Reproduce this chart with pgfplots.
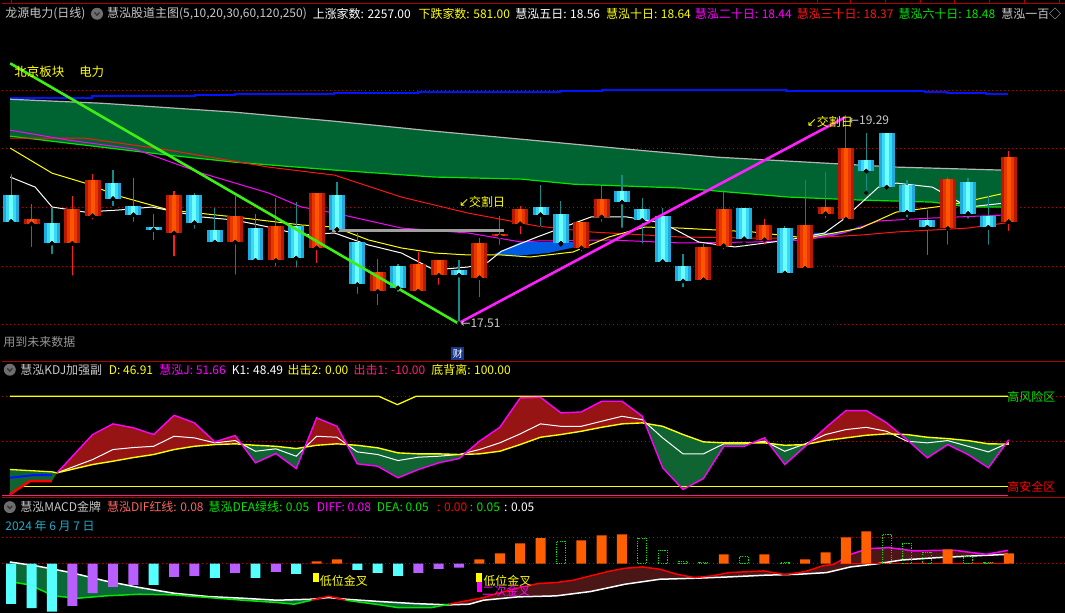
\documentclass[border=0pt]{standalone}
\usepackage{fontspec}
\setmainfont{Noto Sans CJK SC}
\newfontfamily\dejavu{DejaVu Sans}
\usepackage{pgfplots}
\pgfplotsset{compat=1.18}
\usepgfplotslibrary{fillbetween}
\usepackage{pgfplotstable}

\definecolor{sepred}{RGB}{175,0,0}
\definecolor{dotred}{RGB}{190,0,0}
\definecolor{band}{RGB}{0,100,50}
\definecolor{maGray}{RGB}{180,180,180}
\definecolor{maGreen}{RGB}{0,230,0}
\definecolor{maRed}{RGB}{255,20,20}
\definecolor{maMag}{RGB}{255,0,255}
\definecolor{maYel}{RGB}{255,255,0}
\definecolor{maBlue}{RGB}{0,20,255}
\definecolor{fillBlue}{RGB}{0,90,225}
\definecolor{upD}{RGB}{185,25,0}
\definecolor{upM}{RGB}{230,55,0}
\definecolor{upL}{RGB}{255,85,0}
\definecolor{dnD}{RGB}{30,170,220}
\definecolor{dnM}{RGB}{60,215,245}
\definecolor{dnL}{RGB}{110,255,255}
\definecolor{wickUp}{RGB}{255,30,30}
\definecolor{wickDn}{RGB}{20,140,140}
\definecolor{diagG}{RGB}{60,240,20}
\definecolor{diagM}{RGB}{255,30,255}
\definecolor{kred}{RGB}{150,20,20}
\definecolor{kgreen}{RGB}{15,100,50}
\definecolor{mgreen}{RGB}{10,105,55}
\definecolor{mbrown}{RGB}{75,22,22}
\definecolor{hCyan}{RGB}{85,255,255}
\definecolor{hViolet}{RGB}{185,95,255}
\definecolor{hOrange}{RGB}{255,95,0}
\definecolor{hGreen}{RGB}{0,230,0}
\definecolor{txtGray}{RGB}{200,200,200}
\definecolor{dimGray}{RGB}{150,150,150}
\definecolor{iconGray}{RGB}{110,110,110}
\definecolor{dateC}{RGB}{30,170,200}
\definecolor{pinkLine}{RGB}{230,40,130}
\definecolor{hotpink}{RGB}{255,30,120}
\definecolor{salmon}{RGB}{255,100,100}
\definecolor{caiBlue}{RGB}{25,55,140}

\newcommand\hf{\fontsize{12bp}{14bp}\selectfont}

% candles: index, open, high, low, close
\pgfplotstableread{
i o h l c
1 18.38 18.55 18.16 18.42
3 18.21 18.62 17.91 18.51
4 18.45 18.82 18.40 18.76
8 18.30 18.67 18.08 18.63
11 18.22 18.62 17.92 18.45
13 18.06 18.61 17.99 18.36
15 18.17 18.65 18.02 18.65
18 17.79 18.07 17.65 17.96
20 17.79 18.13 17.79 18.03
21 17.93 18.06 17.83 18.06
23 17.91 18.26 17.72 18.21
24 18.27 18.45 18.18 18.29
25 18.38 18.54 18.27 18.51
28 18.17 18.40 18.12 18.40
29 18.44 18.71 18.38 18.60
34 17.89 18.20 17.89 18.18
35 18.19 18.68 18.14 18.51
37 18.24 18.42 18.18 18.37
39 17.99 18.76 17.99 18.37
40 18.47 18.83 18.41 18.53
41 18.42 19.33 18.40 19.04
46 18.34 18.79 18.18 18.77
49 18.40 19.02 18.30 18.96
}\upc

\pgfplotstableread{
i o h l c
0 18.63 18.82 18.40 18.40
2 18.39 18.52 18.10 18.21
5 18.74 18.85 18.52 18.60
6 18.54 18.78 18.38 18.46
7 18.35 18.47 18.22 18.33
9 18.63 18.65 18.32 18.39
10 18.33 18.52 18.19 18.22
12 18.34 18.47 18.06 18.06
14 18.36 18.57 17.98 18.08
16 18.63 18.75 18.33 18.33
17 18.22 18.30 17.75 17.85
19 18.01 18.03 17.77 17.82
22 17.98 18.06 17.51 17.93
26 18.53 18.72 18.34 18.46
27 18.47 18.58 18.20 18.21
30 18.67 18.81 18.33 18.57
31 18.51 18.61 18.19 18.41
32 18.45 18.52 18.03 18.05
33 18.01 18.12 17.81 17.88
36 18.52 18.52 18.21 18.25
38 18.34 18.36 17.93 17.95
42 18.94 19.17 18.65 18.84
43 19.17 19.17 18.70 18.70
44 18.72 18.76 18.42 18.48
45 18.41 18.50 18.09 18.35
47 18.75 18.78 18.41 18.47
48 18.45 18.62 18.18 18.35
}\dnc

\pgfplotstableread{
i p
-0.05 19.469
4.46 19.434
10.98 19.356
15.88 19.277
20.78 19.190
25.05 19.120
30.25 19.033
34.66 18.963
39.95 18.911
43.48 18.876
48.63 18.850
}\maTop

\pgfplotstableread{
i p
-0.05 19.146
4.46 19.050
7.75 18.980
10.98 18.919
15.88 18.850
20.78 18.789
25.05 18.771
27.6 18.727
32.9 18.693
38.19 18.614
41.72 18.588
45.25 18.570
47.0 18.527
48.63 18.527
}\maSixty

% KDJ: J, K, D
\pgfplotstableread{
i J K D
2.25 15.1 15.1 15.1
4 57.5 29.8 24.3
5 69.3 40.9 28.0
6 64.9 43.1 32.0
7 57.5 44.5 35.4
8 78.8 55.6 40.9
9 70.4 53.8 44.5
10 49.4 48.3 46.4
11 56.4 50.8 47.2
12 26.2 39.0 45.6
13 36.5 41.7 44.5
14 19.9 33.5 42.0
15 75.9 55.6 45.6
16 66.6 54.5 47.2
17 25.1 38.3 45.6
18 22.4 35.4 42.8
19 9.6 28.7 37.2
20 18.8 32.4 36.1
21 26.2 33.5 36.1
22 30.9 35.4 35.4
23 50.1 40.9 36.1
24 65.5 48.3 39.0
25 98.0 58.2 46.4
26 98.7 69.3 54.5
27 81.4 66.6 57.5
28 82.5 66.6 61.1
29 94.3 72.2 65.5
30 94.3 77.7 69.3
31 77.7 74.0 70.4
32 20.7 53.8 66.6
33 -3.3 36.1 57.5
34 8.8 36.1 49.4
35 44.5 47.2 48.3
36 44.5 47.2 48.3
37 53.8 50.1 48.3
38 24.3 39.0 45.6
39 44.5 47.2 46.4
40 64.9 57.5 50.8
41 84.0 63.0 53.8
42 84.0 65.5 56.7
43 70.4 61.1 58.2
44 51.9 50.1 57.5
45 31.7 48.3 54.5
46 46.4 50.8 53.0
47 35.4 44.5 50.8
48 20.7 38.3 47.2
49 51.66 48.49 46.91
}\kdj

% MACD lines
\pgfplotstableread{
i m
-0.07 0.010
1.25 -0.014
2.94 -0.054
4.62 -0.104
6.31 -0.144
8.0 -0.178
9.69 -0.198
11.37 -0.208
13.06 -0.220
14.75 -0.214
15.6 -0.204
16.43 -0.214
18.13 -0.228
19.8 -0.240
21.5 -0.248
22.5 -0.244
23.2 -0.220
24.9 -0.200
26.76 -0.194
28.45 -0.168
30.15 -0.124
31.86 -0.094
33.58 -0.088
35.27 -0.080
36.96 -0.070
38.68 -0.064
40.05 -0.054
41.23 -0.020
42.6 0.0
43.77 0.022
45.5 0.036
47.2 0.046
48.97 0.056
}\dea

\pgfplotstableread{
i m
-0.07 -0.108
0.91 -0.128
2.09 -0.194
3.27 -0.208
4.62 -0.194
6.31 -0.184
8.0 -0.188
9.69 -0.204
11.37 -0.220
13.06 -0.234
13.9 -0.244
14.75 -0.220
15.6 -0.196
16.43 -0.220
18.13 -0.248
18.97 -0.264
20.66 -0.264
21.5 -0.244
22.35 -0.224
23.2 -0.204
24.04 -0.174
24.9 -0.146
25.88 -0.120
26.76 -0.114
27.6 -0.100
28.45 -0.074
29.3 -0.048
30.15 -0.028
31.0 -0.020
31.86 -0.034
32.7 -0.064
33.57 -0.084
34.41 -0.074
35.27 -0.054
36.96 -0.044
38.0 -0.066
39.0 -0.048
39.85 -0.014
40.4 -0.004
40.7 0.016
41.23 0.056
42.1 0.090
43.1 0.096
43.77 0.086
44.3 0.076
45.5 0.080
46.35 0.080
47.2 0.066
47.9 0.056
48.97 0.080
}\dif

\pgfplotsset{
  panel/.style={scale only axis, hide axis, width=1065bp,
    xmin=-0.441, xmax=51.765, anchor=south west},
  griddot/.style={dotred, line width=1bp, dash pattern=on 1bp off 3bp, on layer=axis background},
  bar/.style 2 args={only marks, mark=none,
    error bars/y dir=plus, error bars/y explicit, error bars/error mark=none,
    error bars/error bar style={line width=#1, color=#2}},
  hbar/.style={ybar, bar width=10bp, bar shift=0pt, draw=none, fill=#1},
}

\begin{document}
\pagecolor{black}
\begin{tikzpicture}[trim left=0bp, trim right=1065bp]
\path (0,0) rectangle (1065bp,614bp);

%================ main panel =================
\begin{axis}[panel, at={(0bp,254bp)}, height=340bp, ymin=17.192, ymax=20.158]
\addplot[griddot] coordinates {(-0.44,19.542) (51.76,19.542)};
\addplot[griddot] coordinates {(-0.44,19.039) (51.76,19.039)};
\addplot[griddot] coordinates {(-0.44,18.524) (51.76,18.524)};
\addplot[griddot] coordinates {(-0.44,18.009) (51.76,18.009)};
\addplot[griddot] coordinates {(-0.44,17.503) (51.76,17.503)};

\addplot[draw=none, name path=top] table[x=i, y=p] {\maTop};
\addplot[draw=none, name path=sixty] table[x=i, y=p] {\maSixty};
\addplot[band] fill between[of=top and sixty];

\addplot[fill=fillBlue, draw=none] coordinates {(23.73,18.117) (25.05,18.221) (28.48,18.221) (27.5,18.169) (26.37,18.125) (24.71,18.099)} -- cycle;
\addplot[fill=fillBlue, draw=none] coordinates {(39.41,18.300) (40.25,18.300) (41.23,18.322) (41.81,18.378) (41.23,18.313) (40.25,18.269) (39.41,18.256)} -- cycle;

\addplot[const plot, maBlue, line width=2bp] coordinates {(-0.05,19.478) (3.97,19.495) (9.02,19.507) (10.98,19.513) (15.88,19.524) (20.0,19.530) (24.07,19.533) (26.96,19.545) (29.02,19.554) (38.04,19.542) (44.9,19.533) (45.98,19.524) (47.89,19.515) (48.97,19.515)};
\addplot[maGray, line width=1.2bp] table[x=i, y=p] {\maTop};
\addplot[maGreen, line width=1.2bp] table[x=i, y=p] {\maSixty};
\addplot[maRed, line width=1bp] coordinates {(-0.05,19.129) (3.63,19.129) (7.75,19.024) (12.65,18.876) (15.88,18.806) (19.17,18.614) (22.45,18.474) (25.05,18.387) (25.83,18.361) (28.48,18.309) (32.89,18.265) (36.42,18.256) (39.07,18.256) (41.72,18.282) (43.48,18.309) (47.0,18.343) (48.82,18.387)};
\addplot[maMag, line width=1bp] coordinates {(-0.05,19.199) (2.84,19.111) (6.08,19.033) (9.36,18.823) (12.65,18.649) (14.26,18.527) (15.88,18.474) (19.17,18.343) (22.45,18.300) (25.05,18.221) (25.83,18.230) (29.36,18.239) (32.89,18.213) (36.42,18.221) (39.07,18.239) (40.83,18.300) (42.6,18.405) (45.25,18.431) (48.82,18.457)};
\addplot[maYel, line width=1bp] coordinates {(-0.05,19.042) (2.01,18.823) (3.63,18.736) (5.29,18.623) (7.75,18.501) (10.98,18.440) (14.26,18.370) (15.88,18.352) (17.55,18.239) (19.17,18.169) (20.78,18.125) (22.45,18.108) (24.07,18.108) (25.49,18.090) (27.6,18.134) (29.36,18.265) (31.13,18.352) (32.89,18.343) (36.42,18.309) (39.07,18.256) (41.72,18.343) (43.48,18.483) (46.13,18.544) (48.82,18.649)};
\addplot[white, line width=1bp] coordinates {(-0.05,18.789) (1.18,18.701) (2.01,18.527) (3.63,18.483) (5.29,18.501) (6.91,18.527) (9.36,18.440) (10.98,18.413) (12.65,18.352) (14.26,18.282) (15.88,18.300) (17.55,18.195) (19.17,18.125) (20.78,17.977) (22.45,18.003) (23.43,18.047) (24.07,18.140) (25.83,18.265) (28.48,18.440) (30.25,18.440) (32.01,18.387) (33.77,18.221) (35.54,18.178) (38.19,18.239) (39.95,18.300) (40.83,18.413) (42.6,18.701) (43.48,18.736) (45.25,18.701) (47.0,18.527) (48.82,18.562)};

% wicks
\addplot[bar={1.2bp}{wickUp}] table[x=i, y=l, y error plus expr=\thisrow{h}-\thisrow{l}] {\upc};
\addplot[bar={1.2bp}{wickDn}] table[x=i, y=l, y error plus expr=\thisrow{h}-\thisrow{l}] {\dnc};
% bodies
\addplot[bar={16bp}{upD}] table[x=i, y=o, y error plus expr=\thisrow{c}-\thisrow{o}] {\upc};
\addplot[bar={10bp}{upM}] table[x=i, y=o, y error plus expr=\thisrow{c}-\thisrow{o}] {\upc};
\addplot[bar={4bp}{upL}] table[x=i, y=o, y error plus expr=\thisrow{c}-\thisrow{o}] {\upc};
\addplot[bar={16bp}{dnD}] table[x=i, y=c, y error plus expr=\thisrow{o}-\thisrow{c}] {\dnc};
\addplot[bar={10bp}{dnM}] table[x=i, y=c, y error plus expr=\thisrow{o}-\thisrow{c}] {\dnc};
\addplot[bar={4bp}{dnL}] table[x=i, y=c, y error plus expr=\thisrow{o}-\thisrow{c}] {\dnc};

\addplot[gray!75, line width=3bp] coordinates {(15.74,18.324) (24.22,18.324)};
\addplot[diagG, line width=2.6bp] coordinates {(-0.05,19.783) (21.96,17.51)};
\addplot[diagM, line width=2.6bp] coordinates {(21.96,17.51) (40.95,19.31)};

\node[anchor=west, inner sep=0, text=maYel, font=\hf] at (axis cs:21.99,18.568) {{\dejavu ↙}交割日};
\node[anchor=west, inner sep=0, text=maYel, font=\hf] at (axis cs:39.07,19.271) {{\dejavu ↙}交割日};
\node[anchor=west, inner sep=0, text=txtGray, font=\hf] at (axis cs:41.15,19.29) {{\dejavu ←}19.29};
\node[anchor=west, inner sep=0, text=txtGray, font=\hf] at (axis cs:22.06,17.51) {{\dejavu ←}17.51};
\end{axis}

%================ KDJ panel =================
\begin{axis}[panel, at={(0bp,116bp)}, height=136bp, ymin=-12.16, ymax=138.1]
\addplot[griddot] coordinates {(-0.44,100) (51.76,100)};
\addplot[griddot] coordinates {(-0.44,50) (51.76,50)};
\addplot[maYel, line width=1.3bp] coordinates {(-0.07,100) (18.04,100) (18.97,90.6) (19.9,100) (48.97,100)};
\addplot[maYel, line width=1.3bp] coordinates {(-0.07,0) (48.97,0)};

\addplot[fill=kgreen, draw=none] coordinates {(-0.07,18.8) (2.0,16.2) (2.25,15.1) (2.0,5.9) (0.91,5.9) (-0.07,-8.8)} -- cycle;
\addplot[maYel, line width=1.3bp] coordinates {(-0.07,18.8) (2.0,16.2) (2.25,15.1)};
\addplot[red, line width=2.5bp] coordinates {(-0.07,-8.8) (0.91,5.9) (2.0,5.9)};
\addplot[maBlue, line width=2bp] coordinates {(-0.07,9.6) (1.08,12.5) (2.0,12.5)};

\addplot[draw=none, name path=J] table[x=i, y=J] {\kdj};
\addplot[draw=none, name path=D] table[x=i, y=D] {\kdj};
\addplot[kred] fill between[of=J and D, soft clip={domain=2.25:11.32}];
\addplot[kgreen] fill between[of=J and D, soft clip={domain=11.32:14.42}];
\addplot[kred] fill between[of=J and D, soft clip={domain=14.42:16.49}];
\addplot[kgreen] fill between[of=J and D, soft clip={domain=16.49:22.24}];
\addplot[kred] fill between[of=J and D, soft clip={domain=22.24:31.14}];
\addplot[kgreen] fill between[of=J and D, soft clip={domain=31.14:36.41}];
\addplot[kred] fill between[of=J and D, soft clip={domain=36.41:37.21}];
\addplot[kgreen] fill between[of=J and D, soft clip={domain=37.21:39.12}];
\addplot[kred] fill between[of=J and D, soft clip={domain=39.12:43.69}];
\addplot[kgreen] fill between[of=J and D, soft clip={domain=43.69:48.85}];
\addplot[kred] fill between[of=J and D, soft clip={domain=48.85:49}];

\addplot[white, line width=1bp] table[x=i, y=K] {\kdj};
\addplot[maYel, line width=1.4bp] table[x=i, y=D] {\kdj};
\addplot[maMag, line width=1.4bp] table[x=i, y=J] {\kdj};
\end{axis}

%================ MACD panel =================
\begin{axis}[panel, at={(0bp,0bp)}, height=116bp, ymin=-0.2982, ymax=0.3978]
\addplot[griddot] coordinates {(-0.44,0.160) (51.76,0.160)};
\addplot[griddot] coordinates {(-0.44,0) (51.76,0)};

\addplot[draw=none, name path=DIF] table[x=i, y=m] {\dif};
\addplot[draw=none, name path=DEA] table[x=i, y=m] {\dea};
\addplot[mgreen] fill between[of=DIF and DEA, soft clip={domain=-0.07:15.11}];
\addplot[mbrown] fill between[of=DIF and DEA, soft clip={domain=15.11:16.07}];
\addplot[mgreen] fill between[of=DIF and DEA, soft clip={domain=16.07:21.35}];
\addplot[mbrown] fill between[of=DIF and DEA, soft clip={domain=21.35:48.97}];

\addplot[white, line width=1.5bp] table[x=i, y=m] {\dea};
\addplot[hGreen, line width=1.5bp, restrict x to domain=-1:14.75] table[x=i, y=m] {\dif};
\addplot[red, line width=1.5bp, restrict x to domain=14.75:16.43] table[x=i, y=m] {\dif};
\addplot[hGreen, line width=1.5bp, restrict x to domain=16.43:21.5] table[x=i, y=m] {\dif};
\addplot[red, line width=1.5bp, restrict x to domain=21.5:40.7] table[x=i, y=m] {\dif};
\addplot[maMag, line width=1.5bp, restrict x to domain=40.7:50] table[x=i, y=m] {\dif};
\addplot[red, line width=1.5bp] coordinates {(40.7,0) (48.97,0)};

\addplot[hbar=hCyan] coordinates {(0,-0.242) (1,-0.268) (2,-0.288) (7,-0.128) (10,-0.086) (12,-0.086) (14,-0.062) (17,-0.038) (18,-0.056) (19,-0.074)};
\addplot[hbar=hViolet] coordinates {(3,-0.254) (4,-0.178) (5,-0.140) (6,-0.128) (8,-0.080) (9,-0.074) (11,-0.056) (13,-0.050) (20,-0.056) (21,-0.032) (22,-0.024)};
\addplot[hbar=hOrange] coordinates {(15,0.014) (16,0.026) (23,0.026) (24,0.062) (25,0.122) (26,0.154) (28,0.140) (29,0.170) (30,0.176) (35,0.056) (37,0.056) (39,0.026) (40,0.068) (41,0.158) (42,0.194) (46,0.086) (49,0.062)};
\addplot[ybar, bar width=9bp, bar shift=0pt, fill=none, draw=hGreen, line width=1.1bp, dash pattern=on 1.2bp off 1.2bp] coordinates {(27,0.134) (31,0.152) (32,0.080) (33,0.014) (34,0.008) (36,0.044) (38,0.005) (43,0.176) (44,0.122) (45,0.068) (47,0.044) (48,0.008)};

\addplot[maYel, line width=6bp] coordinates {(14.95,-0.112) (14.95,-0.058)};
\addplot[maYel, line width=6bp] coordinates {(22.99,-0.112) (22.99,-0.058)};
\addplot[maMag, line width=5bp] coordinates {(22.99,-0.172) (22.99,-0.112)};
\node[anchor=west, inner sep=0, text=maYel, font=\hf] at (axis cs:15.15,-0.103) {低位金叉};
\node[anchor=west, inner sep=0, text=maYel, font=\hf] at (axis cs:23.19,-0.103) {低位金叉};
\node[anchor=west, inner sep=0, text=maMag, font=\hf] at (axis cs:23.14,-0.164) {二次金叉};
\end{axis}

%================ frame lines and headers =================
\draw[sepred, line width=1bp] (0,611.3bp) -- (1065bp,611.3bp);
\foreach \x in {9,817,850,885,920,954,989,1024,1059}
  \draw[sepred, line width=1bp] (\x bp,611.3bp) -- (\x bp,614bp);
\draw[sepred, line width=1.2bp] (0,252bp) -- (1065bp,252bp);
\draw[pinkLine, line width=1.2bp] (0,118bp) -- (1008bp,118bp);
\draw[sepred, line width=1.2bp] (0,115.7bp) -- (1065bp,115.7bp);

\tikzset{hdr/.style={anchor=west, inner sep=0, font=\hf}}
% header 1
\node[hdr, text=txtGray] at (3bp,600.7bp) {龙源电力(日线)};
\fill[iconGray] (95bp,600.7bp) circle (6bp);
\draw[black!80, line width=1.3bp] (92.5bp,602bp) -- (95bp,599.3bp) -- (97.5bp,602bp);
\node[hdr, text=txtGray] at (105bp,600.7bp) {慧泓股道主图(5,10,20,30,60,120,250)};
\node[hdr, text=white] at (311bp,600.7bp) {上涨家数: 2257.00};
\node[hdr, text=maYel] at (417bp,600.7bp) {下跌家数: 581.00};
\node[hdr, text=white] at (514bp,600.7bp) {慧泓五日: 18.56};
\node[hdr, text=maYel] at (605bp,600.7bp) {慧泓十日: 18.64};
\node[hdr, text=maMag] at (694bp,600.7bp) {慧泓二十日: 18.44};
\node[hdr, text=maRed] at (796bp,600.7bp) {慧泓三十日: 18.37};
\node[hdr, text=maGreen] at (898bp,600.7bp) {慧泓六十日: 18.48};
\node[hdr, text=txtGray] at (1001bp,600.7bp) {慧泓一百◇};

\node[hdr, text=maYel, font=\fontsize{12.5bp}{14bp}\selectfont] at (12bp,542.3bp) {北京板块};
\node[hdr, text=maYel, font=\fontsize{12.5bp}{14bp}\selectfont] at (77bp,542.3bp) {电力};
\node[hdr, text=dimGray] at (1bp,271.5bp) {用到未来数据};
\node[fill=caiBlue, text=white, inner sep=0, minimum size=13bp, font=\fontsize{10bp}{11bp}\selectfont] at (456.5bp,260bp) {财};

% KDJ header
\fill[iconGray] (7.6bp,244bp) circle (6bp);
\draw[black!80, line width=1.3bp] (5.1bp,245.3bp) -- (7.6bp,242.6bp) -- (10.1bp,245.3bp);
\node[hdr, text=txtGray] at (18bp,244bp) {慧泓KDJ加强副};
\node[hdr, text=maYel] at (106.7bp,244bp) {D: 46.91};
\node[hdr, text=maMag] at (157.4bp,244bp) {慧泓J: 51.66};
\node[hdr, text=white] at (230bp,244bp) {K1: 48.49};
\node[hdr, text=maYel] at (285.8bp,244bp) {出击2: 0.00};
\node[hdr, text=hotpink] at (352bp,244bp) {出击1: -10.00};
\node[hdr, text=maYel] at (429.8bp,244bp) {底背离: 100.00};
\node[hdr, text=maGreen] at (1007bp,217bp) {高风险区};
\node[hdr, text=red] at (1007bp,127bp) {高安全区};

% MACD header
\fill[iconGray] (7.6bp,106.3bp) circle (6bp);
\draw[black!80, line width=1.3bp] (5.1bp,107.6bp) -- (7.6bp,104.9bp) -- (10.1bp,107.6bp);
\node[hdr, text=txtGray] at (18bp,106.3bp) {慧泓MACD金牌};
\node[hdr, text=salmon] at (105bp,106.3bp) {慧泓DIF红线: 0.08};
\node[hdr, text=maGreen] at (206.6bp,106.3bp) {慧泓DEA绿线: 0.05};
\node[hdr, text=maMag] at (315bp,106.3bp) {DIFF: 0.08};
\node[hdr, text=maGreen] at (375.3bp,106.3bp) {DEA: 0.05};
\node[hdr, text=red] at (435.6bp,106.3bp) {: 0.00};
\node[hdr, text=maGreen] at (468.3bp,106.3bp) {: 0.05};
\node[hdr, text=white] at (502.8bp,106.3bp) {: 0.05};
\node[hdr, text=dateC] at (3bp,87.3bp) {2024 年 6 月 7 日};
\end{tikzpicture}
\end{document}
